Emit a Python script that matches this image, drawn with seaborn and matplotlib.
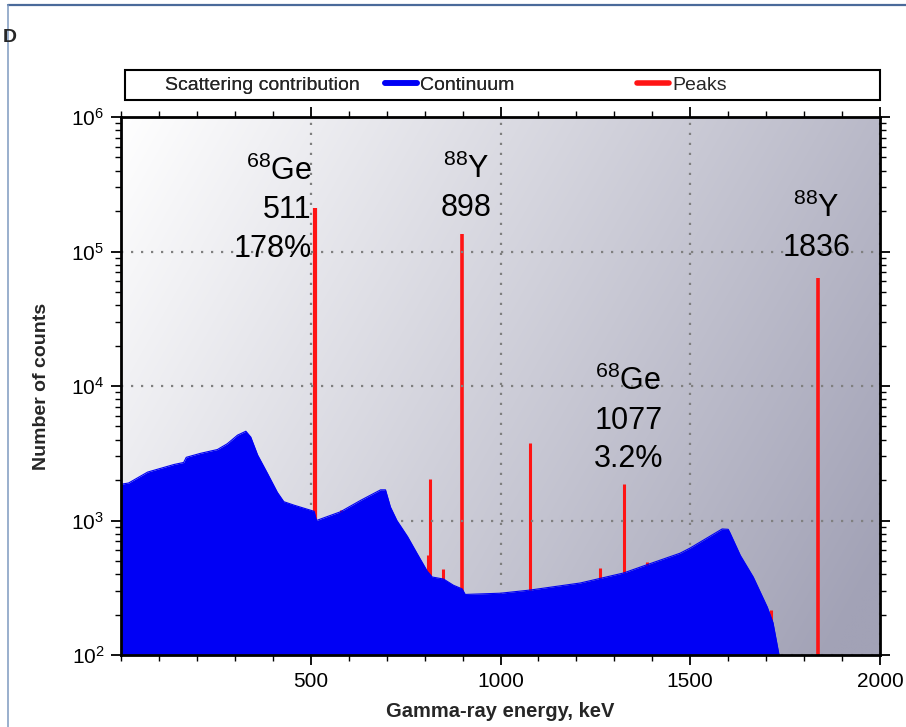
import matplotlib
matplotlib.use("Agg")
import matplotlib.pyplot as plt
import numpy as np
import seaborn as sns
from matplotlib.lines import Line2D
from matplotlib.patches import Rectangle

# continuum (keV, counts)
continuum_kev = [0, 20, 70, 140, 165, 172, 210, 254, 280, 307, 329, 342, 360, 386,
                 412, 429, 456, 509, 515, 578, 631, 684, 697, 710, 727, 755, 780,
                 807, 820, 850, 876, 899, 907, 1000, 1078, 1210, 1324, 1385, 1473,
                 1500, 1584, 1600, 1605, 1632, 1666, 1703, 1718, 1734]
continuum_counts = [1860, 1900, 2290, 2610, 2700, 2950, 3160, 3370, 3720, 4310, 4610,
                    4170, 3070, 2240, 1620, 1380, 1300, 1170, 1000, 1160, 1410, 1690,
                    1690, 1260, 1000, 760, 570, 420, 380, 367, 330, 310, 282, 288,
                    304, 343, 407, 468, 571, 625, 865, 860, 807, 550, 380, 227, 174, 100]

# peaks (keV, top counts)
peak_kev = [511, 580, 808, 813, 849, 898, 1078, 1263, 1326, 1385, 1714, 1836]
peak_counts = [210000, 1200, 550, 2040, 433, 134000, 3800, 445, 1860, 490, 215, 63000]
peak_width = [3.0, 2.2, 2.2, 2.2, 2.2, 2.6, 2.2, 2.2, 2.2, 2.2, 2.2, 2.6]

legend_labels = ["Scattering contribution", "Continuum", "Peaks"]

sns.set_theme(style="ticks")
plt.rcParams['font.family'] = ['Liberation Sans', 'DejaVu Sans']
plt.rcParams['mathtext.fontset'] = 'custom'
plt.rcParams['mathtext.rm'] = 'Liberation Sans'
plt.rcParams['mathtext.it'] = 'Liberation Sans:italic'
plt.rcParams['mathtext.bf'] = 'Liberation Sans:bold'

W, H = 906, 727
fig = plt.figure(figsize=(W / 100, H / 100), dpi=100)
fig.patch.set_facecolor('white')
ax = fig.add_axes([121 / W, 1 - 655 / H, 759 / W, 538 / H])

# background gradient, white top-left to grey-blue bottom-right
u = np.linspace(0, 1, 300)[None, :]
v = np.linspace(0, 1, 300)[:, None]
t = np.clip(0.75 * u + 0.3 * v, 0, 1)
white = np.array([1.0, 1.0, 1.0])
dark = np.array([162, 162, 182]) / 255
grad = white[None, None, :] * (1 - t[..., None]) + dark[None, None, :] * t[..., None]
ax.imshow(grad, extent=(0, 1, 0, 1), transform=ax.transAxes, aspect='auto',
          origin='upper', zorder=0, interpolation='bilinear')

red = '#ff1414'
blue = '#0000f5'

ax.vlines(peak_kev, 50, peak_counts, color=red, lw=peak_width, zorder=2)
ax.fill_between(continuum_kev, continuum_counts, 1, color=blue, lw=0, zorder=3)
sns.lineplot(x=continuum_kev, y=continuum_counts, color=blue, lw=0.8, ax=ax, zorder=4)

ax.set_yscale('log')
ax.set_xlim(0, 2000)
ax.set_ylim(100, 1e6)
ax.set_xticks([500, 1000, 1500, 2000])
ax.set_xticks(np.arange(0, 2001, 100), minor=True)
ax.set_axisbelow(False)
ax.grid(True, which='major', linestyle=(0, (1, 3.5)), color='#808080', lw=1.6, zorder=1)

ax.tick_params(which='both', direction='out', top=True, right=True,
               labeltop=False, labelright=False, color='black', labelsize=15,
               labelcolor='black')
ax.tick_params(which='major', length=7, width=1.3, pad=5)
ax.tick_params(which='minor', length=4, width=1.0)
for s in ax.spines.values():
    s.set_color('black')
    s.set_linewidth(2)
    s.set_zorder(6)

ax.set_xlabel("Gamma-ray energy, keV", fontsize=14.5, fontweight='bold', labelpad=8)
ax.set_ylabel("Number of counts", fontsize=14, fontweight='bold', labelpad=15)

# peak labels
tkw = dict(fontsize=22, color='black', zorder=7, linespacing=1.38)
ax.text(503, 10 ** 5.31, "$^{68}$Ge\n511\n178%", ha='right', va='center', ma='right', **tkw)
ax.text(910, 10 ** 5.47, "$^{88}$Y\n898", ha='center', va='center', ma='center', **tkw)
ax.text(1832, 10 ** 5.175, "$^{88}$Y\n1836", ha='center', va='center', ma='center', **tkw)
ax.text(1337, 10 ** 3.747, "$^{68}$Ge\n1077\n3.2%", ha='center', va='center', ma='center', **tkw)

# legend box across the top
fig.add_artist(Rectangle((125 / W, 1 - 100 / H), 755 / W, 30 / H, transform=fig.transFigure,
                         facecolor='white', edgecolor='black', lw=1.5))
lkw = dict(loc='center left', fontsize=14, frameon=False, borderaxespad=0, borderpad=0,
           handlelength=1.65, handletextpad=0.15, bbox_transform=fig.transFigure)
handles = [Line2D([], [], color='none', lw=4),
           Line2D([], [], color=blue, lw=4),
           Line2D([], [], color=red, lw=4)]
leg1 = fig.legend(handles[:2], legend_labels[:2], ncol=2, columnspacing=1.3,
                  bbox_to_anchor=(130 / W, 1 - 85 / H), **lkw)
leg2 = fig.legend(handles[2:], legend_labels[2:], ncol=1,
                  bbox_to_anchor=(637 / W, 1 - 85 / H), **lkw)
fig.add_artist(leg1)

# outer frame of the figure panel
fig.add_artist(Line2D([8 / W, 1], [1 - 5 / H, 1 - 5 / H], transform=fig.transFigure,
                      color='#4a6a9a', lw=1.6))
fig.add_artist(Line2D([8 / W, 8 / W], [1 - 5 / H, 0], transform=fig.transFigure,
                      color='#7f9ac0', lw=1.1))
fig.text(3 / W, 1 - 38 / H, "D", fontsize=14, fontweight='bold', va='center', ha='left')

fig.savefig("out.png", dpi=100)
